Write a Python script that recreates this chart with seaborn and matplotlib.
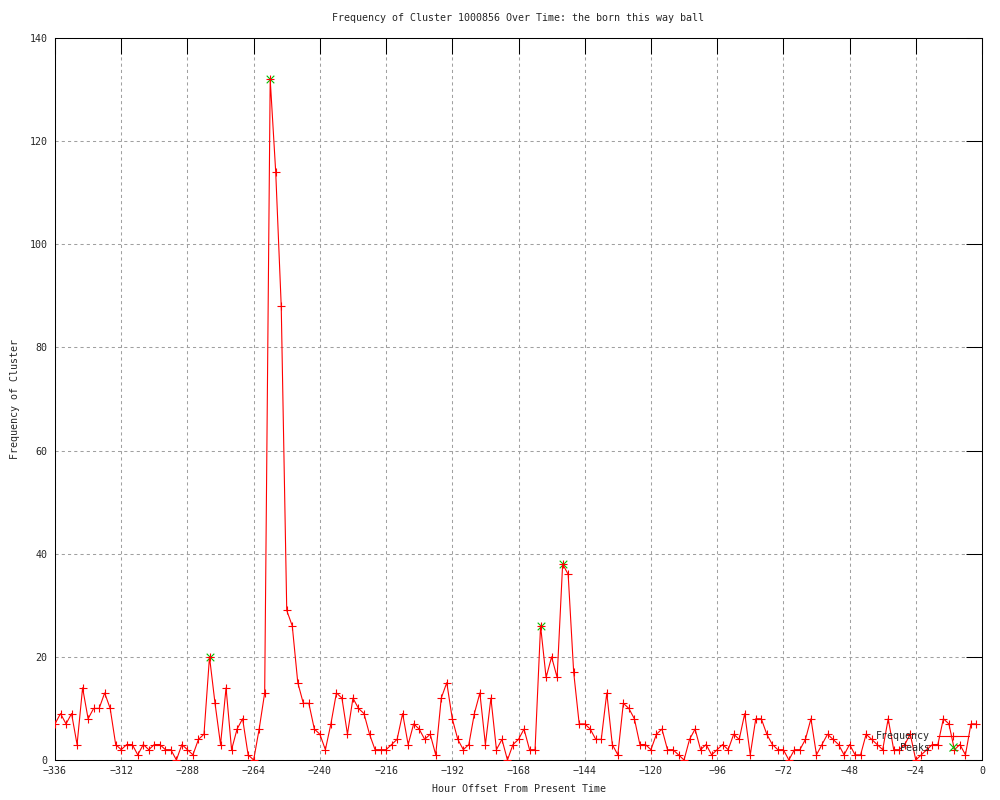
import numpy as np
import pandas as pd
import seaborn as sns
import matplotlib.pyplot as plt
from matplotlib.lines import Line2D

hours = list(range(-336, 0, 2))
freq = [7, 9, 7, 9, 3, 14, 8, 10, 10, 13, 10, 3, 2, 3, 3, 1, 3, 2, 3, 3,
        2, 2, 0, 3, 2, 1, 4, 5, 20, 11, 3, 14, 2, 6, 8, 1, 0, 6, 13, 132,
        114, 88, 29, 26, 15, 11, 11, 6, 5, 2, 7, 13, 12, 5, 12, 10, 9, 5, 2, 2,
        2, 3, 4, 9, 3, 7, 6, 4, 5, 1, 12, 15, 8, 4, 2, 3, 9, 13, 3, 12,
        2, 4, 0, 3, 4, 6, 2, 2, 26, 16, 20, 16, 38, 36, 17, 7, 7, 6, 4, 4,
        13, 3, 1, 11, 10, 8, 3, 3, 2, 5, 6, 2, 2, 1, 0, 4, 6, 2, 3, 1,
        2, 3, 2, 5, 4, 9, 1, 8, 8, 5, 3, 2, 2, 0, 2, 2, 4, 8, 1, 3,
        5, 4, 3, 1, 3, 1, 1, 5, 4, 3, 2, 8, 2, 2, 3, 5, 0, 1, 2, 3,
        3, 8, 7, 2, 3, 1, 7, 7]

# Detected peaks
peak_hours = [-280, -258, -160, -152]
peak_vals = [20, 132, 26, 38]

df = pd.DataFrame({'Hour': hours, 'Frequency': freq})
peaks = pd.DataFrame({'Hour': peak_hours, 'Frequency': peak_vals})

sns.set_style("white")
plt.rcParams['font.family'] = ['DejaVu Sans Mono']
plt.rcParams['font.size'] = 7.2

fig = plt.figure(figsize=(10, 8), dpi=100)
ax = fig.add_axes([0.055, 0.05, 0.927, 0.9025])

green = '#00c000'
sns.scatterplot(data=peaks, x='Hour', y='Frequency', ax=ax, marker='x',
                color=green, s=30, linewidth=0.8, zorder=2, legend=False)
sns.lineplot(data=df, x='Hour', y='Frequency', ax=ax, color='red',
             linewidth=0.8, marker='+', markersize=6, markeredgewidth=0.8,
             markeredgecolor='red', zorder=3, legend=False)

ax.set_xlim(-336, 0)
ax.set_ylim(0, 140)
ax.set_xticks(range(-336, 1, 24))
ax.set_yticks(range(0, 141, 20))

ax.grid(True, color='#a0a0a0', linestyle=(0, (3, 3)), linewidth=0.75)
ax.set_axisbelow(True)
ax.tick_params(direction='in', length=11.5, width=0.75, color='black',
               top=True, right=True, labelsize=7.2)
ax.tick_params(axis='x', pad=4)
ax.tick_params(axis='y', pad=5.5)
for s in ax.spines.values():
    s.set_color('black')
    s.set_linewidth(0.75)

ax.set_title('Frequency of Cluster 1000856 Over Time: the born this way ball',
             fontsize=7.2, pad=12)
ax.set_xlabel('Hour Offset From Present Time', fontsize=7.2, labelpad=6)
ax.set_ylabel('Frequency of Cluster', fontsize=7.2, labelpad=7)

handles = [Line2D([], [], color='red', linewidth=0.8, marker='+', markersize=6,
                  markeredgewidth=0.8),
           Line2D([], [], color=green, linestyle='none', marker='x',
                  markersize=5.5, markeredgewidth=0.8)]
ax.legend(handles, ['Frequency', 'Peaks'], loc='lower right',
          bbox_to_anchor=(0.9863, 0.01), frameon=False, markerfirst=False,
          fontsize=7.2, handlelength=3.2, handletextpad=0.75,
          labelspacing=0.15, borderpad=0, borderaxespad=0, numpoints=1)

fig.savefig('out.png', dpi=100)
